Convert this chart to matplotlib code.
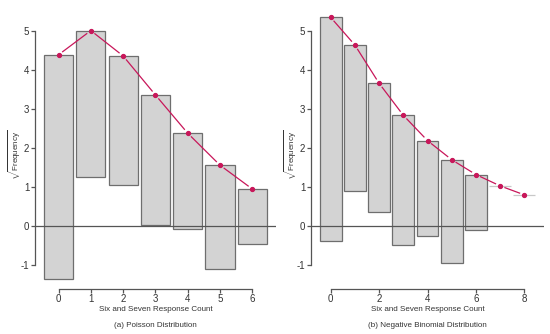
#!/usr/bin/env python3
"""
Hanging rootograms of the six-and-seven response counts:
(a) Poisson fit and (b) negative binomial fit.
"""

import numpy as np
import matplotlib

matplotlib.use("Agg")
import matplotlib.pyplot as plt

plt.rcParams["font.family"] = ["Liberation Sans", "DejaVu Sans"]
plt.rcParams["mathtext.fontset"] = "custom"
plt.rcParams["mathtext.rm"] = "Liberation Sans"
plt.rcParams["axes.unicode_minus"] = False

# sqrt(observed frequency) for counts 0..8
observed_sqrt = [5.74, 3.74, 3.31, 3.32, 2.45, 2.65, 1.41, 0.0, 0.0]

# sqrt(expected frequency) under each model
counts_pois = [0, 1, 2, 3, 4, 5, 6]
fitted_pois = [4.39, 5.01, 4.36, 3.36, 2.38, 1.56, 0.95]

counts_nb = [0, 1, 2, 3, 4, 5, 6, 7, 8]
fitted_nb = [5.35, 4.64, 3.66, 2.84, 2.19, 1.70, 1.32, 1.03, 0.80]

xticks_pois = [0, 1, 2, 3, 4, 5, 6]
xticks_nb = [0, 2, 4, 6, 8]
yticks = [-1, 0, 1, 2, 3, 4, 5]

BAR_FILL = "#d3d3d3"
BAR_EDGE = "#6e6e6e"
FIT_COLOR = "#c8175a"
AXIS_COLOR = "#555555"
TEXT_COLOR = "#333333"


def gapped_line(ax, x, y, gap_px=4.5):
    """R type='b' style: segments stop short of the points."""
    trans = ax.transData
    pts = trans.transform(np.column_stack([x, y]))
    inv = trans.inverted()
    for p0, p1 in zip(pts[:-1], pts[1:]):
        d = p1 - p0
        n = np.hypot(*d)
        if n <= 2 * gap_px:
            continue
        u = d / n
        a = inv.transform(p0 + u * gap_px)
        b = inv.transform(p1 - u * gap_px)
        ax.plot([a[0], b[0]], [a[1], b[1]], color=FIT_COLOR, lw=0.9,
                solid_capstyle="butt", zorder=3, clip_on=False)
    ax.plot(x, y, "o", color=FIT_COLOR, ms=2.8, mec=FIT_COLOR, zorder=4,
            clip_on=False)


def rootogram(ax, counts, fitted, xticks, xlim, caption, label_x):
    obs = np.array(observed_sqrt[: len(counts)])
    fit = np.array(fitted)
    bottoms = fit - obs
    edges = [BAR_EDGE if o > 0 else "#c8c8c8" for o in obs]
    bars = ax.bar(counts, obs, bottom=bottoms, width=0.9, color=BAR_FILL,
                  edgecolor=edges, linewidth=0.9, zorder=2)
    for b in bars:
        b.set_clip_on(False)
    ax.axhline(0, color=AXIS_COLOR, lw=0.9, zorder=2.5)

    ax.set_xlim(*xlim)
    ax.set_ylim(-1.62, 5.27)

    for side in ["top", "right"]:
        ax.spines[side].set_visible(False)
    ax.spines["left"].set_bounds(yticks[0], yticks[-1])
    ax.spines["bottom"].set_bounds(xticks[0], xticks[-1])
    for side in ["left", "bottom"]:
        ax.spines[side].set_color(AXIS_COLOR)
        ax.spines[side].set_linewidth(0.9)

    ax.set_xticks(xticks)
    ax.set_yticks(yticks)
    ax.tick_params(axis="both", length=2.6, width=0.9, color=AXIS_COLOR,
                   labelsize=7, labelcolor=TEXT_COLOR)
    ax.tick_params(axis="y", pad=1.5)
    ax.tick_params(axis="x", pad=1.0)
    ax.set_ylabel(r"$\sqrt{\mathrm{Frequency}}$", fontsize=5.8,
                  color=TEXT_COLOR)
    ax.yaxis.set_label_coords(label_x, 0.5)
    ax.set_xlabel("Six and Seven Response Count", fontsize=5.8,
                  color=TEXT_COLOR, labelpad=1.0)
    ax.annotate(caption, xy=(0.5, 0), xycoords="axes fraction",
                xytext=(0, -23.5), textcoords="offset points",
                ha="center", va="top", fontsize=5.8, color=TEXT_COLOR)
    gapped_line(ax, counts, fitted)


fig = plt.figure(figsize=(5.5, 3.34), dpi=100)
ax_a = fig.add_axes([0.0636, 0.1338, 0.438, 0.805])
ax_b = fig.add_axes([0.5655, 0.1338, 0.4236, 0.805])

rootogram(ax_a, counts_pois, fitted_pois, xticks_pois, (-0.73, 6.73),
          "(a) Poisson Distribution", -0.05)
rootogram(ax_b, counts_nb, fitted_nb, xticks_nb, (-0.81, 8.81),
          "(b) Negative Binomial Distribution", -0.052)

fig.savefig("out.png", dpi=100)
